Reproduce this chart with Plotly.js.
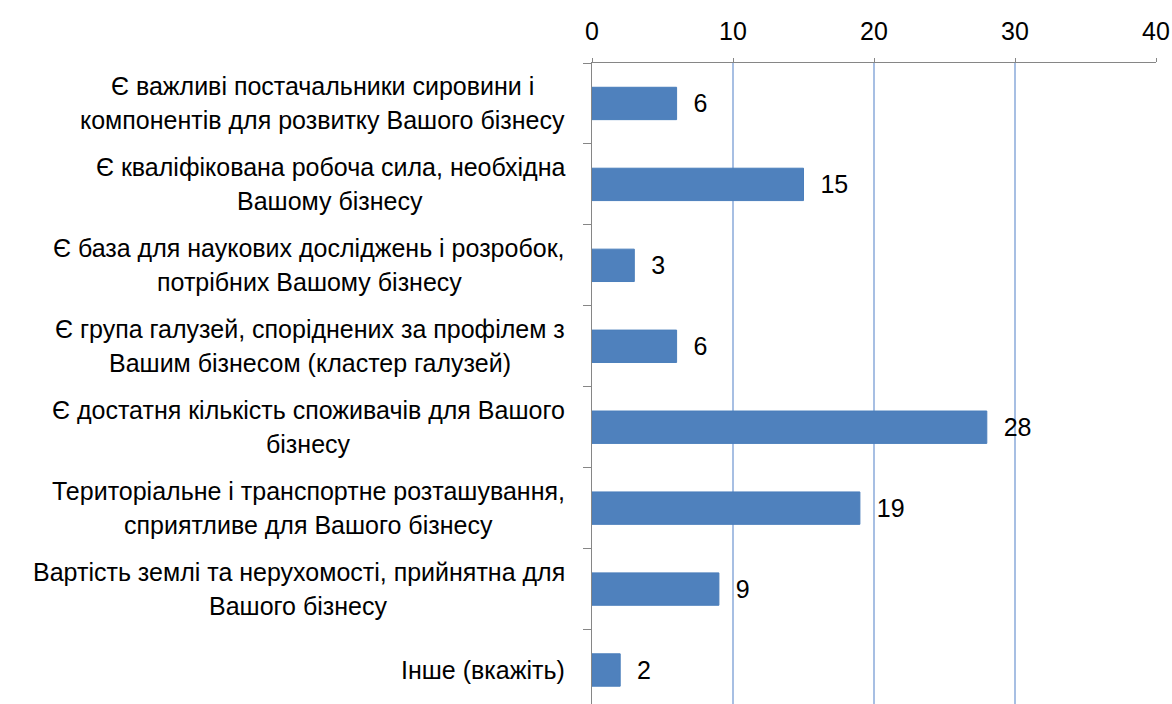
<!DOCTYPE html>
<html>
<head>
<meta charset="utf-8">
<script src="https://cdn.plot.ly/plotly-3.0.1.min.js"></script>
<style>
  html, body { margin: 0; padding: 0; background: #fff; }
  #plot { width: 1172px; height: 704px; }
</style>
</head>
<body>
<div id="plot"></div>
<script>
// categories (lines of each label split by "\n") and counts
const factors = [
    'Є важливі постачальники сировини і\nкомпонентів для розвитку Вашого бізнесу',
    'Є кваліфікована робоча сила, необхідна\nВашому бізнесу',
    'Є база для наукових досліджень і розробок,\nпотрібних Вашому бізнесу',
    'Є група галузей, споріднених за профілем з\nВашим бізнесом (кластер галузей)',
    'Є достатня кількість споживачів для Вашого\nбізнесу',
    'Територіальне і транспортне розташування,\nсприятливе для Вашого бізнесу',
    'Вартість землі та нерухомості, прийнятна для\nВашого бізнесу',
    'Інше (вкажіть)'
];
const counts = [6, 15, 3, 6, 28, 19, 9, 2];
const xTicks = [0, 10, 20, 30, 40];

const FONT = 'Liberation Sans, Arial, sans-serif';
const FSIZE = 25;

const trace = {
    type: 'bar',
    orientation: 'h',
    y: factors,
    x: counts,
    marker: { color: '#4F81BD', line: { color: '#4A7EBB', width: 1 } },
    text: counts,
    texttemplate: '  %{x}',
    textposition: 'outside',
    textfont: { family: FONT, size: FSIZE, color: '#000' },
    cliponaxis: false,
    hoverinfo: 'x+y'
};

// measure text so each label block is right-aligned while its lines are centred
const ctx = document.createElement('canvas').getContext('2d');
ctx.font = FSIZE + 'px "Liberation Sans"';

let annotations = [];
factors.forEach(function (f) {
    const lines = f.split('\n');
    const maxW = Math.max.apply(null, lines.map(function (l) { return ctx.measureText(l).width; }));
    lines.forEach(function (line, i) {
        annotations.push({
            xref: 'paper', x: 0, xshift: -27 - maxW / 2, xanchor: 'center',
            yref: 'y', y: f,
            yshift: ((lines.length - 1) / 2) * 34 - i * 34,
            text: line,
            showarrow: false,
            font: { family: FONT, size: FSIZE, color: '#000' }
        });
    });
});

const layout = {
    width: 1172,
    height: 704,
    margin: { l: 592, r: 16, t: 63, b: 0 },
    paper_bgcolor: '#fff',
    plot_bgcolor: '#fff',
    bargap: 0.6,
    showlegend: false,
    xaxis: {
        side: 'top',
        range: [0, 40],
        tickvals: xTicks,
        ticktext: xTicks.map(String),
        tickfont: { family: FONT, size: FSIZE, color: '#000' },
        showgrid: true,
        gridcolor: '#A7BFE3',
        gridwidth: 1.5,
        zeroline: false,
        showline: true,
        linecolor: '#868686',
        linewidth: 1,
        ticks: 'outside',
        ticklen: 4,
        tickcolor: '#868686',
        ticklabelstandoff: 8
    },
    yaxis: {
        type: 'category',
        categoryorder: 'array',
        categoryarray: factors,
        range: [7.42, -0.5],
        showticklabels: false,
        ticks: 'outside',
        tickson: 'boundaries',
        ticklen: 8,
        tickcolor: '#868686',
        showgrid: false,
        zeroline: false,
        showline: true,
        linecolor: '#868686',
        linewidth: 1
    },
    annotations: annotations
};

Plotly.newPlot('plot', [trace], layout, { displayModeBar: false, staticPlot: true });
</script>
</body>
</html>
